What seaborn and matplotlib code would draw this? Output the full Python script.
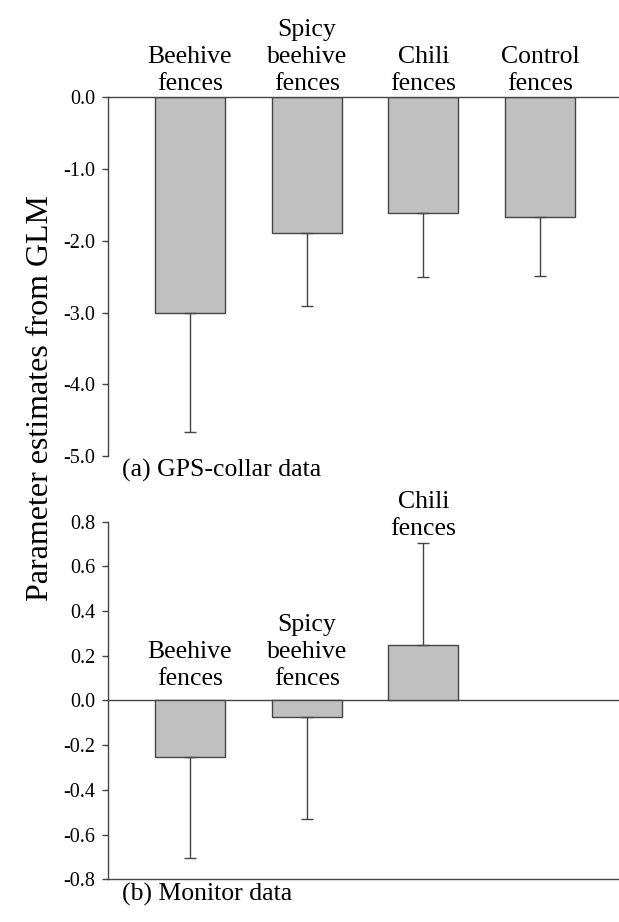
import matplotlib

matplotlib.use("Agg")
import matplotlib.pyplot as plt
import numpy as np
import pandas as pd
import seaborn as sns

# (a) GPS-collar data
gps_fences = ["Beehive\nfences", "Spicy\nbeehive\nfences", "Chili\nfences", "Control\nfences"]
gps_estimates = [-3.00, -1.89, -1.61, -1.67]
gps_errors = [1.67, 1.02, 0.89, 0.82]
gps_ticks = [0.0, -1.0, -2.0, -3.0, -4.0, -5.0]

# (b) Monitor data
monitor_fences = ["Beehive\nfences", "Spicy\nbeehive\nfences", "Chili\nfences"]
monitor_estimates = [-0.254, -0.075, 0.250]
monitor_errors = [0.452, 0.453, 0.453]
monitor_ticks = [0.8, 0.6, 0.4, 0.2, 0.0, -0.2, -0.4, -0.6, -0.8]

BAR = "#c0c0c0"
EDGE = "#454545"

sns.set_theme(style="white")
plt.rcParams["font.family"] = ["Liberation Serif", "DejaVu Serif"]
plt.rcParams["axes.unicode_minus"] = False
plt.rcParams["text.color"] = "black"
plt.rcParams["ytick.labelcolor"] = "black"


def draw_panel(ax, fences, estimates, errors, ticks, label, name_offset=11):
    df = pd.DataFrame({"fence": fences, "estimate": estimates})
    sns.barplot(
        data=df,
        x="fence",
        y="estimate",
        order=fences,
        color=BAR,
        saturation=1,
        edgecolor=EDGE,
        linewidth=1.0,
        width=0.6,
        errorbar=None,
        ax=ax,
    )
    est = np.array(estimates)
    err = np.array(errors)
    # error bars only point away from zero
    lower = np.where(est < 0, err, 0)
    upper = np.where(est > 0, err, 0)
    pos = np.arange(len(fences))
    ax.errorbar(
        pos, est, yerr=[lower, upper], fmt="none",
        ecolor=EDGE, elinewidth=1.0, capsize=4, capthick=1.0,
    )

    # category names written above the bars
    for x, e, s, name in zip(pos, est, err, fences):
        if e < 0:
            y, off = 0, name_offset
        else:
            y, off = e + s, 6
        ax.annotate(
            name, xy=(x, y), xytext=(0, off), textcoords="offset points",
            ha="center", va="baseline", fontsize=18.5, linespacing=1.3,
            color="black", annotation_clip=False,
        )

    ax.set_xlim(-0.705, 3.676)
    ax.set_ylim(min(ticks), max(ticks))
    ax.set_yticks(ticks)
    ax.set_yticklabels([f"{t:.1f}" for t in ticks])
    ax.set_xticks([])
    ax.set_xlabel("")
    ax.set_ylabel("")
    ax.tick_params(axis="y", left=True, length=4, width=1.0, color=EDGE,
                   labelsize=14.5, labelcolor="black", pad=5)
    for sp in ax.spines.values():
        sp.set_color(EDGE)
        sp.set_linewidth(1.0)
    ax.spines["right"].set_visible(False)

    ax.annotate(
        label, xy=(0, 0), xycoords="axes fraction", xytext=(10, -15),
        textcoords="offset points", ha="left", va="baseline", fontsize=18.5,
        color="black", annotation_clip=False,
    )


fig = plt.figure(figsize=(6.19, 9.22), dpi=100)
ax_top = fig.add_axes([0.174, 0.5054, 0.826, 0.3891])
ax_bot = fig.add_axes([0.174, 0.0463, 0.826, 0.3879])

draw_panel(ax_top, gps_fences, gps_estimates, gps_errors, gps_ticks,
           "(a) GPS-collar data", name_offset=5)
ax_top.spines["bottom"].set_visible(False)

draw_panel(ax_bot, monitor_fences, monitor_estimates, monitor_errors, monitor_ticks,
           "(b) Monitor data")
ax_bot.spines["top"].set_visible(False)
ax_bot.axhline(0, color=EDGE, linewidth=1.0, zorder=0.5)

fig.text(0.066, 1 - 195 / 922, "Parameter estimates from GLM", rotation=90,
         ha="center", va="top", fontsize=23)

fig.savefig("out.png", dpi=100)
